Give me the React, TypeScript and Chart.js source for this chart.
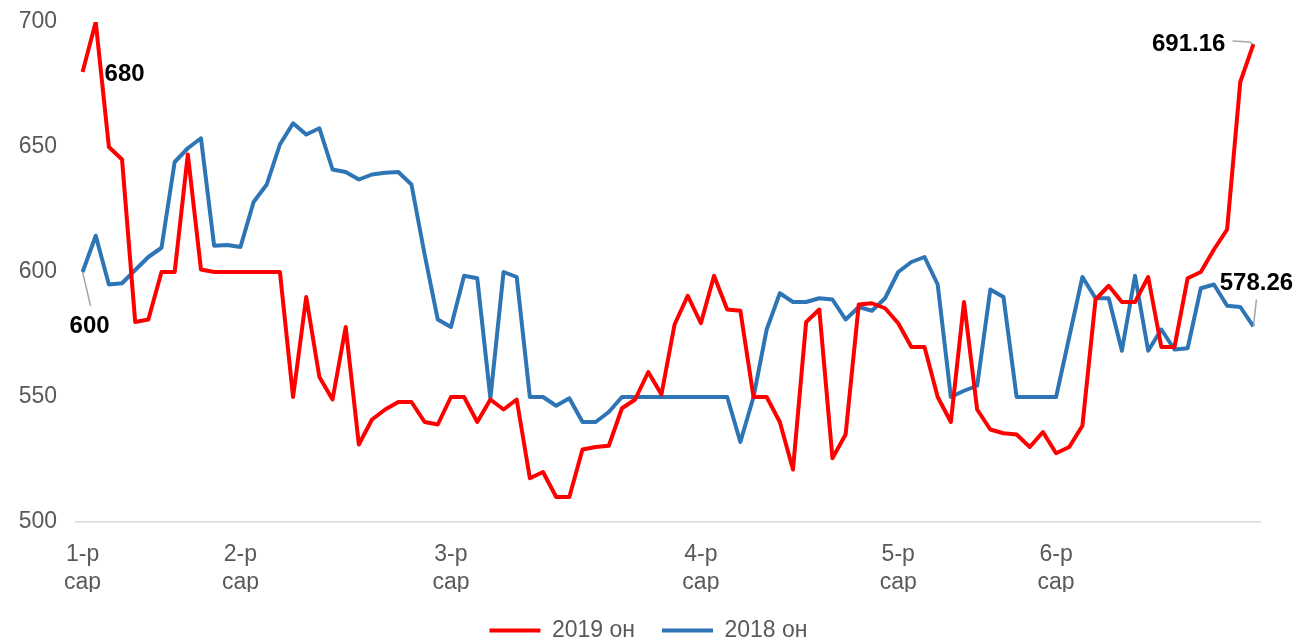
import React, { useEffect, useRef } from "react";
import { Chart, registerables } from "chart.js";

Chart.register(...registerables);

// ---- data ----
const monthNames = ["1-р сар", "2-р сар", "3-р сар", "4-р сар", "5-р сар", "6-р сар"];
const monthStartIndex = [0, 12, 28, 47, 62, 74];
const seriesNames = ["2019 он", "2018 он"];

const values2019 = [
  680, 700, 650, 645, 580, 581, 600, 600, 647, 601,
  600, 600, 600, 600, 600, 600, 550, 590, 558, 549,
  578, 531, 541, 545, 548, 548, 540, 539, 550, 550,
  540, 549, 545, 549, 517.5, 520, 510, 510, 529, 530,
  530.5, 545.5, 549, 560, 551, 579, 590.5, 579.5, 598.5, 585,
  584.5, 550, 550, 540, 521, 580, 585, 525.5, 535, 587,
  587.5, 585.5, 579.5, 570, 570, 550, 540, 588, 545, 537,
  535.5, 535, 530, 536, 527.5, 530, 538.5, 589, 594.5, 588,
  588, 598, 570, 570, 597.5, 600, 609, 617, 676, 691.16,
];

const values2018 = [
  600, 614.5, 595, 595.5, 600.8, 606, 609.7, 644, 649.5, 653.5,
  610.5, 610.8, 610, 628, 635, 651, 659.5, 655, 657.5, 641,
  640, 637, 639, 639.7, 640, 635, 607, 581, 578, 598.5,
  597.5, 549.5, 600, 598, 550, 550, 546.5, 549.5, 540, 540,
  544, 550, 550, 550, 550, 550, 550, 550, 550, 550,
  532, 550, 577, 591.5, 588, 588, 589.5, 589, 581, 586,
  584.5, 589.5, 600, 604, 606, 595, 550, 552.5, 554.5, 593,
  590, 550, 550, 550, 550, 574, 598, 589.5, 589.5, 568.5,
  598.5, 568.5, 577, 569, 569.5, 593.5, 595, 586.5, 586, 578.26,
];

const yTicks = [500, 550, 600, 650, 700];

// which points carry a value label: [datasetIndex, pointIndex]
const labelledPoints: [number, number][] = [
  [0, 0],
  [1, 0],
  [0, values2019.length - 1],
  [1, values2018.length - 1],
];

// ---- styling for the value labels (offsets in px from the point) ----
const labelStyles = [
  { dx: 42, dy: 2, align: "center", leader: [] as [number, number][] },
  { dx: 7, dy: 54, align: "center", leader: [[8, 34]] as [number, number][] },
  { dx: -28, dy: 0, align: "right", leader: [[-4, -2], [-21, -3]] as [number, number][] },
  { dx: 3, dy: -43, align: "center", leader: [[3, -27]] as [number, number][] },
];

const FONT = "'Liberation Sans', Arial, sans-serif";

const valueLabelPlugin = {
  id: "valueLabels",
  afterDatasetsDraw(chart: any) {
    const ctx = chart.ctx;
    ctx.save();
    labelledPoints.forEach(([ds, idx], k) => {
      const st = labelStyles[k];
      const el = chart.getDatasetMeta(ds).data[idx];
      if (!el) return;
      const x = el.x;
      const y = el.y;
      if (st.leader.length) {
        ctx.beginPath();
        ctx.moveTo(x, y);
        for (const [lx, ly] of st.leader) ctx.lineTo(x + lx, y + ly);
        ctx.strokeStyle = "#A6A6A6";
        ctx.lineWidth = 1.5;
        ctx.stroke();
      }
      const v = chart.data.datasets[ds].data[idx];
      ctx.font = `bold 24px ${FONT}`;
      ctx.fillStyle = "#000000";
      ctx.textAlign = st.align;
      ctx.textBaseline = "middle";
      ctx.fillText(String(v), x + st.dx, y + st.dy);
    });
    ctx.restore();
  },
};

export default function App() {
  const canvasRef = useRef<HTMLCanvasElement | null>(null);

  useEffect(() => {
    if (!canvasRef.current) return;
    const labels: (string | string[])[] = values2019.map(() => "");
    monthStartIndex.forEach((i, k) => {
      labels[i] = monthNames[k].split(" ");
    });

    const chart = new Chart(canvasRef.current, {
      type: "line",
      data: {
        labels,
        datasets: [
          {
            label: seriesNames[0],
            data: values2019,
            borderColor: "#FF0000",
            backgroundColor: "#FF0000",
            borderWidth: 4,
            pointRadius: 0,
            tension: 0,
            borderJoinStyle: "round",
          },
          {
            label: seriesNames[1],
            data: values2018,
            borderColor: "#2E75B6",
            backgroundColor: "#2E75B6",
            borderWidth: 4,
            pointRadius: 0,
            tension: 0,
            borderJoinStyle: "round",
          },
        ],
      },
      options: {
        animation: false,
        responsive: true,
        maintainAspectRatio: false,
        layout: { padding: { left: 0, right: 0, top: 22, bottom: 0 } },
        plugins: {
          tooltip: { enabled: false },
          legend: {
            position: "bottom",
            labels: {
              boxWidth: 51,
              boxHeight: 4,
              padding: 27,
              color: "#595959",
              font: { family: FONT, size: 23 },
              generateLabels: (c: any) =>
                Chart.defaults.plugins.legend.labels
                  .generateLabels(c)
                  .map((l: any) => ({ ...l, lineWidth: 0 })),
            },
          },
        },
        scales: {
          x: {
            type: "category",
            offset: true,
            grid: { display: false, drawTicks: false },
            border: { display: true, color: "#D9D9D9", width: 1.5 },
            ticks: {
              autoSkip: false,
              maxRotation: 0,
              minRotation: 0,
              padding: 19,
              color: "#595959",
              font: { family: FONT, size: 23, lineHeight: 1.22 },
            },
            afterFit: (s: any) => {
              s.height = 70;
            },
          },
          y: {
            min: 500,
            max: 700,
            afterBuildTicks: (s: any) => {
              s.ticks = yTicks.map((v) => ({ value: v }));
            },
            grid: { display: false, drawTicks: false },
            border: { display: false },
            ticks: {
              padding: 19,
              color: "#595959",
              font: { family: FONT, size: 23 },
            },
            afterFit: (s: any) => {
              s.width = 76;
              s.paddingTop = 0;
              s.paddingBottom = 0;
            },
          },
          yRight: {
            position: "right",
            display: true,
            min: 500,
            max: 700,
            grid: { display: false, drawTicks: false },
            border: { display: false },
            ticks: { display: false },
            afterFit: (s: any) => {
              s.width = 37;
              s.paddingTop = 0;
              s.paddingBottom = 0;
            },
          },
        },
      },
      plugins: [valueLabelPlugin],
    } as any);

    return () => chart.destroy();
  }, []);

  return (
    <div style={{ position: "absolute", left: 0, top: 0, width: 1297, height: 652 }}>
      <canvas ref={canvasRef} />
    </div>
  );
}
